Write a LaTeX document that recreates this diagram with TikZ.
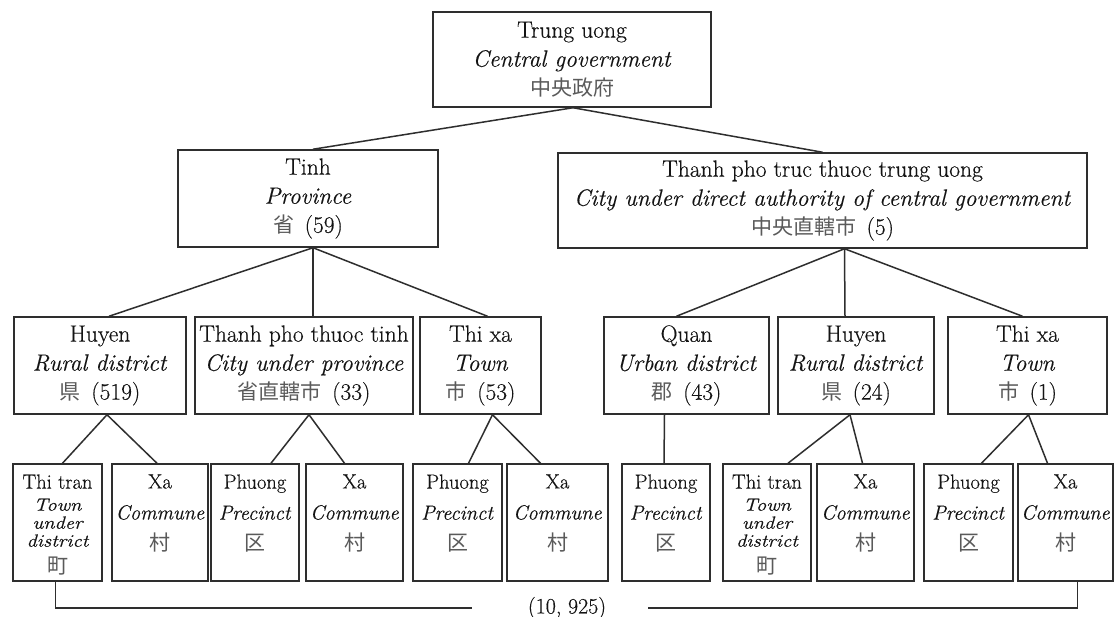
\documentclass[tikz,border=0pt]{standalone}
\usepackage{graphicx}
\usepackage{fontspec}
\setmainfont{Latin Modern Roman}[FakeBold=0.35]
\newfontfamily\cjkfont{Noto Sans CJK JP}
\usetikzlibrary{calc}
\definecolor{linecol}{HTML}{2E2E2E}
\definecolor{txtcol}{HTML}{141414}
\definecolor{cjkcol}{HTML}{5A5A5A}
% Japanese label, and Japanese label followed by a count
\newcommand{\jp}[1]{{\cjkfont\fontsize{21}{24}\selectfont\color{cjkcol}#1}}
\newcommand{\cnt}[2]{\jp{#1}\hspace{0.45em}(#2)}
% three-line leaf label: Vietnamese / English / Japanese
\newcommand{\leafthree}[3]{#1\\\textit{#2}\\\jp{#3}}
% condensed italic lines used in the "Thi tran" frames
\newcommand{\squashit}[1]{\scalebox{1}[0.86]{\fontsize{20.5}{22}\selectfont\itshape #1}}

\begin{document}
\begin{tikzpicture}[x=1pt,y=-1pt,
  box/.style={draw=linecol, line width=1.5pt, inner sep=0pt, align=center,
    text=txtcol, font=\fontsize{23.5}{29}\selectfont},
  leaf/.style={draw=linecol, line width=1.5pt, inner sep=0pt, minimum height=117pt},
  leaftext/.style={anchor=north, inner sep=0pt, align=center, text=txtcol,
    font=\fontsize{20.5}{31}\selectfont},
  link/.style={draw=linecol, line width=1.5pt}]
\fill[white] (0,0) rectangle (1120,617);
\useasboundingbox (0,0) rectangle (1120,617);

% level 1
\node[box, minimum width=278pt, minimum height=95pt] (gov) at (572,59.5)
  {Trung uong\\\textit{Central government}\\\jp{中央政府}};

% level 2
\node[box, minimum width=260pt, minimum height=97pt] (tinh) at (308,198.5)
  {Tinh\\\textit{Province}\\\cnt{省}{59}};
\node[box, minimum width=529pt, minimum height=95pt] (tptw) at (822.5,200.5)
  {Thanh pho truc thuoc trung uong\\\textit{City under direct authority of central government}\\\cnt{中央直轄市}{5}};

% level 3
\node[box, minimum width=172pt, minimum height=97pt] (huyenA) at (100,365.5)
  {Huyen\\\textit{Rural district}\\\cnt{県}{519}};
\node[box, minimum width=218pt, minimum height=97pt] (tptt) at (304,365.5)
  {Thanh pho thuoc tinh\\\textit{City under province}\\\cnt{省直轄市}{33}};
\node[box, minimum width=121pt, minimum height=97pt] (thixaA) at (480.5,365.5)
  {Thi xa\\\textit{Town}\\\cnt{市}{53}};
\node[box, minimum width=165pt, minimum height=97pt] (quan) at (686.5,365.5)
  {Quan\\\textit{Urban district}\\\cnt{郡}{43}};
\node[box, minimum width=156pt, minimum height=97pt] (huyenB) at (856,365.5)
  {Huyen\\\textit{Rural district}\\\cnt{県}{24}};
\node[box, minimum width=159pt, minimum height=97pt] (thixaB) at (1027.5,365.5)
  {Thi xa\\\textit{Town}\\\cnt{市}{1}};

% level 4 frames
\node[leaf, minimum width=89pt]  (la) at (57.5,522.5) {};
\node[leaf, minimum width=96pt]  (lb) at (160,522.5) {};
\node[leaf, minimum width=88pt]  (lc) at (255,522.5) {};
\node[leaf, minimum width=97pt]  (ld) at (354.5,522.5) {};
\node[leaf, minimum width=89pt]  (le) at (457.5,522.5) {};
\node[leaf, minimum width=101pt] (lf) at (557.5,522.5) {};
\node[leaf, minimum width=88pt]  (lg) at (666,522.5) {};
\node[leaf, minimum width=88pt]  (lh) at (767,522.5) {};
\node[leaf, minimum width=97pt]  (li) at (865.5,522.5) {};
\node[leaf, minimum width=89pt]  (lj) at (968.5,522.5) {};
\node[leaf, minimum width=95pt]  (lk) at (1065.5,522.5) {};

% level 4 labels, hung from the top of each frame
\node[leaftext] (ta) at ($(la.north)+(0,11)$)
  {Thi tran\\[-9pt]\squashit{Town}\\[-13pt]\squashit{under}\\[-13pt]\squashit{district}\\[-4pt]\jp{町}};
\node[leaftext] (tb) at ($(lb.north)+(0,11)$) {\leafthree{Xa}{Commune}{村}};
\node[leaftext] (tc) at ($(lc.north)+(0,11)$) {\leafthree{Phuong}{Precinct}{区}};
\node[leaftext] (td) at ($(ld.north)+(0,11)$) {\leafthree{Xa}{Commune}{村}};
\node[leaftext] (te) at ($(le.north)+(0,11)$) {\leafthree{Phuong}{Precinct}{区}};
\node[leaftext] (tf) at ($(lf.north)+(0,11)$) {\leafthree{Xa}{Commune}{村}};
\node[leaftext] (tg) at ($(lg.north)+(0,11)$) {\leafthree{Phuong}{Precinct}{区}};
\node[leaftext] (th) at ($(lh.north)+(0,11)$)
  {Thi tran\\[-9pt]\squashit{Town}\\[-13pt]\squashit{under}\\[-13pt]\squashit{district}\\[-4pt]\jp{町}};
\node[leaftext] (ti) at ($(li.north)+(0,11)$) {\leafthree{Xa}{Commune}{村}};
\node[leaftext] (tj) at ($(lj.north)+(0,11)$) {\leafthree{Phuong}{Precinct}{区}};
\node[leaftext] (tk) at ($(lk.north)+(0,11)$) {\leafthree{Xa}{Commune}{村}};

% level 1 -> level 2
\draw[link] ($(gov.south)+(1,0)$) -- ($(tinh.north)+(5,0)$);
\draw[link] ($(gov.south)+(1,0)$) -- (tptw.north);

% level 2 -> level 3
\draw[link] ($(tinh.south)+(5,0)$) -- ($(huyenA.north)+(9,0)$);
\draw[link] ($(tinh.south)+(5,0)$) -- ($(tptt.north)+(9,0)$);
\draw[link] ($(tinh.south)+(5,0)$) -- ($(thixaA.north)+(7,0)$);
\draw[link] ($(tptw.south)+(22,0)$) -- ($(quan.north)+(-10,0)$);
\draw[link] ($(tptw.south)+(22,0)$) -- ($(huyenB.north)+(-11,0)$);
\draw[link] ($(tptw.south)+(22,0)$) -- ($(thixaB.north)+(-5,0)$);

% level 3 -> level 4
\draw[link] ($(huyenA.south)+(7,0)$) -- ($(la.north)+(5,0)$);
\draw[link] ($(huyenA.south)+(7,0)$) -- ($(lb.north)+(-3,0)$);
\draw[link] ($(tptt.south)+(5,0)$) -- ($(lc.north)+(16,0)$);
\draw[link] ($(tptt.south)+(5,0)$) -- ($(ld.north)+(-10,0)$);
\draw[link] ($(thixaA.south)+(12,0)$) -- ($(le.north)+(11,0)$);
\draw[link] ($(thixaA.south)+(12,0)$) -- ($(lf.north)+(-17,0)$);
\draw[link] ($(quan.south)+(-22,0)$) -- ($(lg.north)+(-2,0)$);
\draw[link] ($(huyenB.south)+(-6,0)$) -- ($(lh.north)+(21,0)$);
\draw[link] ($(huyenB.south)+(-6,0)$) -- ($(li.north)+(-3,0)$);
\draw[link] ($(thixaB.south)+(1,0)$) -- ($(lj.north)+(13,0)$);
\draw[link] ($(thixaB.south)+(1,0)$) -- ($(lk.north)+(-18,0)$);

% total count bracket under the bottom row
\node[inner sep=0pt, text=txtcol, font=\fontsize{22}{26}\selectfont] (total) at (567,608) {(10, 925)};
\coordinate (bl) at (472,608);
\coordinate (br) at (648,608);
\draw[link] ($(la.south)+(-2,0)$) |- (bl);
\draw[link] (br) -| ($(lk.south)+(12,0)$);
\end{tikzpicture}
\end{document}
